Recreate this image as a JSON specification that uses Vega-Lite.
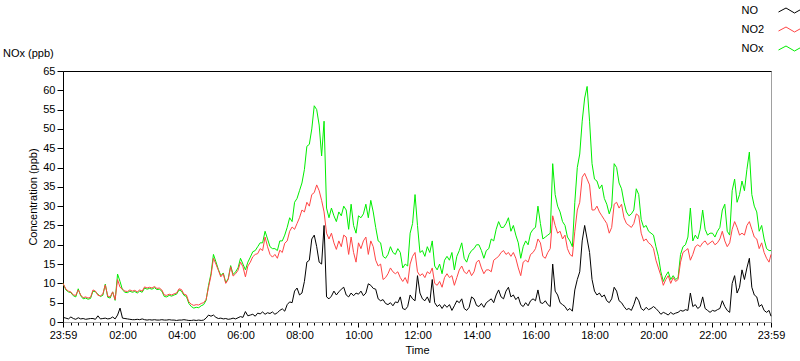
{
"$schema": "https://vega.github.io/schema/vega-lite/v6.json",
"width": 708, "height": 251,
"autosize": "none",
"padding": {"left": 63, "top": 71, "right": 29, "bottom": 39},
"background": "white",
"config": {
  "font": "Liberation Sans",
  "view": {"stroke": "#a0a0a0"},
  "axis": {"labelFont": "Liberation Sans", "titleFont": "Liberation Sans", "labelFontSize": 11, "titleFontSize": 11, "titleFontWeight": "normal", "labelColor": "black", "titleColor": "black", "tickColor": "black", "grid": false}
},
"title": {"text": "NOx (ppb)", "anchor": "start", "frame": "group", "dx": -60, "dy": 63, "offset": 0, "fontSize": 11, "fontWeight": "normal", "font": "Liberation Sans", "color": "black", "baseline": "alphabetic"},
"data": {"values": [
{"t":-1,"a":1.2,"b":10,"c":10},{"t":5,"a":1.0,"b":8.5,"c":8.3},{"t":10,"a":0.8,"b":8,"c":7.8},{"t":15,"a":1.3,"b":7.8,"c":7.6},{"t":20,"a":0.9,"b":7,"c":6.8},{"t":25,"a":0.7,"b":6.9,"c":6.5},{"t":30,"a":1.1,"b":8.3,"c":8.6},{"t":35,"a":0.8,"b":7,"c":6.8},{"t":40,"a":0.9,"b":6.3,"c":6},{"t":45,"a":0.7,"b":6.5,"c":6.2},{"t":50,"a":0.8,"b":6.2,"c":5.9},{"t":55,"a":0.9,"b":6.4,"c":6.1},
{"t":60,"a":0.9,"b":8.3,"c":8},{"t":65,"a":0.7,"b":8,"c":7.8},{"t":70,"a":1.6,"b":6.9,"c":7.2},{"t":75,"a":0.8,"b":6.8,"c":6.6},{"t":80,"a":0.9,"b":7.2,"c":6.9},{"t":85,"a":1,"b":9.6,"c":9.8},{"t":90,"a":0.8,"b":6.7,"c":6.4},{"t":95,"a":0.9,"b":6.5,"c":6.2},{"t":100,"a":1.3,"b":7.8,"c":7.8},{"t":105,"a":0.8,"b":5.8,"c":5.6},{"t":110,"a":1.8,"b":11,"c":12.4},{"t":115,"a":3.6,"b":9,"c":10.5},
{"t":120,"a":1.0,"b":8.5,"c":8.3},{"t":125,"a":0.9,"b":8,"c":7.7},{"t":130,"a":0.8,"b":7.9,"c":7.6},{"t":135,"a":0.7,"b":8.3,"c":8},{"t":140,"a":0.6,"b":8,"c":7.7},{"t":145,"a":0.6,"b":8.2,"c":7.9},{"t":150,"a":0.7,"b":7.8,"c":7.5},{"t":155,"a":0.6,"b":8.3,"c":8},{"t":160,"a":0.8,"b":8,"c":7.7},{"t":165,"a":0.6,"b":9.1,"c":8.8},{"t":170,"a":0.5,"b":8.8,"c":8.5},{"t":175,"a":0.6,"b":9,"c":8.7},
{"t":180,"a":0.5,"b":8.8,"c":8.5},{"t":185,"a":0.6,"b":9.2,"c":8.9},{"t":190,"a":0.5,"b":8.7,"c":8.4},{"t":195,"a":0.5,"b":8.8,"c":8.5},{"t":200,"a":0.6,"b":8.3,"c":8},{"t":205,"a":0.5,"b":7,"c":6.6},{"t":210,"a":0.5,"b":6.9,"c":6.5},{"t":215,"a":0.6,"b":7.2,"c":6.9},{"t":220,"a":0.5,"b":7,"c":6.7},{"t":225,"a":0.5,"b":7.3,"c":7},{"t":230,"a":0.4,"b":7.5,"c":7.2},{"t":235,"a":0.5,"b":8.6,"c":8.3},
{"t":240,"a":0.5,"b":8.4,"c":8},{"t":245,"a":0.6,"b":7.2,"c":6.9},{"t":250,"a":0.5,"b":7,"c":6.6},{"t":255,"a":0.4,"b":5.2,"c":4.8},{"t":260,"a":0.4,"b":4.6,"c":4},{"t":265,"a":0.5,"b":4.3,"c":3.6},{"t":270,"a":0.4,"b":4.5,"c":3.8},{"t":275,"a":0.5,"b":4.4,"c":3.7},{"t":280,"a":0.4,"b":4.8,"c":4.2},{"t":285,"a":0.5,"b":5,"c":4.5},{"t":290,"a":1.0,"b":5.8,"c":5.6},{"t":295,"a":1.8,"b":9,"c":9.5},
{"t":300,"a":1.5,"b":12,"c":12.5},{"t":305,"a":1.8,"b":16.5,"c":17.5},{"t":310,"a":1.2,"b":15,"c":15.6},{"t":315,"a":0.9,"b":13.4,"c":13.6},{"t":320,"a":1.0,"b":11.7,"c":12},{"t":325,"a":0.8,"b":12.5,"c":12.7},{"t":330,"a":0.9,"b":10,"c":10.2},{"t":335,"a":0.7,"b":11,"c":11.2},{"t":340,"a":0.8,"b":14.3,"c":14.6},{"t":345,"a":1.0,"b":11.9,"c":12.3},{"t":350,"a":0.8,"b":12.5,"c":13},{"t":355,"a":1.1,"b":13.4,"c":14},
{"t":360,"a":1.4,"b":15.5,"c":16.5},{"t":365,"a":1.2,"b":14.3,"c":15},{"t":370,"a":2.7,"b":11.7,"c":13.5},{"t":375,"a":1.6,"b":14.5,"c":15.5},{"t":380,"a":1.8,"b":15.5,"c":16.8},{"t":385,"a":2.0,"b":16.9,"c":18.2},{"t":390,"a":1.5,"b":17.5,"c":18.5},{"t":395,"a":2.3,"b":17.7,"c":19.5},{"t":400,"a":2.1,"b":19,"c":20.5},{"t":405,"a":2.6,"b":18.5,"c":20.5},{"t":410,"a":2.0,"b":22,"c":23.5},{"t":415,"a":2.4,"b":19.5,"c":21.5},
{"t":420,"a":2.2,"b":17.5,"c":19.5},{"t":425,"a":2.6,"b":16.8,"c":19},{"t":430,"a":2.0,"b":17.5,"c":19},{"t":435,"a":2.4,"b":16.5,"c":18.5},{"t":440,"a":3.0,"b":18.6,"c":21},{"t":445,"a":3.4,"b":18,"c":21},{"t":450,"a":2.8,"b":20.4,"c":22.5},{"t":455,"a":4.5,"b":21,"c":24.5},{"t":460,"a":5.2,"b":23.5,"c":27},{"t":465,"a":5.0,"b":24.6,"c":26},{"t":470,"a":8.0,"b":24,"c":31},{"t":475,"a":8.8,"b":25.5,"c":32},
{"t":480,"a":7.0,"b":27,"c":34},{"t":485,"a":7.5,"b":29,"c":36},{"t":490,"a":10.5,"b":28.5,"c":39.5},{"t":495,"a":15.5,"b":31,"c":45.5},{"t":500,"a":16.0,"b":30,"c":46},{"t":505,"a":21.5,"b":33,"c":50},{"t":510,"a":22.5,"b":33.5,"c":56},{"t":515,"a":19.5,"b":35.5,"c":55},{"t":520,"a":15.5,"b":34,"c":51},{"t":525,"a":15.0,"b":31.5,"c":43},{"t":530,"a":25.0,"b":28.5,"c":52},{"t":535,"a":6.5,"b":23,"c":29.5},
{"t":540,"a":6.0,"b":21.5,"c":27},{"t":545,"a":6.7,"b":23,"c":29.5},{"t":550,"a":8.0,"b":20.5,"c":27.5},{"t":555,"a":7.0,"b":18.8,"c":26},{"t":560,"a":7.8,"b":21,"c":28.5},{"t":565,"a":8.5,"b":19.5,"c":27.5},{"t":570,"a":9.0,"b":22.5,"c":30},{"t":575,"a":7.0,"b":22,"c":29},{"t":580,"a":6.5,"b":17.5,"c":24},{"t":585,"a":7.5,"b":22,"c":30.5},{"t":590,"a":6.8,"b":18,"c":25},{"t":595,"a":7.5,"b":15.5,"c":23},
{"t":600,"a":7.2,"b":20.5,"c":27.5},{"t":605,"a":8.0,"b":19,"c":27},{"t":610,"a":6.8,"b":21,"c":28},{"t":615,"a":7.5,"b":22,"c":30.5},{"t":620,"a":9.9,"b":17.5,"c":27},{"t":625,"a":9.5,"b":21,"c":31.5},{"t":630,"a":8.7,"b":19.5,"c":28.5},{"t":635,"a":8.5,"b":16,"c":24.5},{"t":640,"a":6.0,"b":14.5,"c":21},{"t":645,"a":5.5,"b":15,"c":20.5},{"t":650,"a":5.8,"b":11,"c":17},{"t":655,"a":4.8,"b":11.5,"c":16.5},
{"t":660,"a":4.5,"b":12.5,"c":17.5},{"t":665,"a":5.0,"b":14,"c":19.5},{"t":670,"a":4.2,"b":13,"c":18},{"t":675,"a":5.2,"b":12.5,"c":17.5},{"t":680,"a":5.0,"b":13,"c":19},{"t":685,"a":6.5,"b":11.5,"c":18},{"t":690,"a":3.5,"b":10.5,"c":14},{"t":695,"a":3.2,"b":11.5,"c":15},{"t":700,"a":4.0,"b":10,"c":14.5},{"t":705,"a":7.0,"b":15,"c":23},{"t":710,"a":6.0,"b":17,"c":25.5},{"t":715,"a":5.5,"b":18,"c":33},
{"t":720,"a":12.0,"b":13,"c":25},{"t":725,"a":7.5,"b":12,"c":18},{"t":730,"a":6.0,"b":12.5,"c":18.5},{"t":735,"a":5.5,"b":11.5,"c":17},{"t":740,"a":6.5,"b":13,"c":19.5},{"t":745,"a":5.0,"b":12.5,"c":18},{"t":750,"a":11.0,"b":14,"c":21},{"t":755,"a":5.0,"b":10,"c":14.5},{"t":760,"a":4.0,"b":9.5,"c":13.5},{"t":765,"a":4.5,"b":10.5,"c":15},{"t":770,"a":3.5,"b":9,"c":12.5},{"t":775,"a":4.5,"b":11.5,"c":16},
{"t":780,"a":3.8,"b":12.5,"c":17},{"t":785,"a":4.5,"b":11.5,"c":16},{"t":790,"a":3.0,"b":12,"c":18},{"t":795,"a":4.2,"b":9.5,"c":13.5},{"t":800,"a":5.5,"b":11.5,"c":17},{"t":805,"a":5.0,"b":13.5,"c":18.5},{"t":810,"a":6.0,"b":14.5,"c":20.5},{"t":815,"a":3.5,"b":13,"c":16.5},{"t":820,"a":3.0,"b":12.5,"c":15.5},{"t":825,"a":3.8,"b":13.5,"c":17.5},{"t":830,"a":6.5,"b":12,"c":18.5},{"t":835,"a":6.0,"b":13,"c":19},
{"t":840,"a":4.3,"b":15.5,"c":20},{"t":845,"a":4.0,"b":16,"c":20},{"t":850,"a":4.8,"b":14,"c":18.5},{"t":855,"a":3.8,"b":12.5,"c":16.5},{"t":860,"a":5.0,"b":13.5,"c":18.5},{"t":865,"a":5.5,"b":13.5,"c":19},{"t":870,"a":6.0,"b":13,"c":21.5},{"t":875,"a":5.0,"b":16,"c":21},{"t":880,"a":7.0,"b":16.5,"c":24},{"t":885,"a":8.3,"b":17,"c":26},{"t":890,"a":6.5,"b":18,"c":24.5},{"t":895,"a":6.0,"b":18.5,"c":24.5},
{"t":900,"a":8.0,"b":17.5,"c":25.5},{"t":905,"a":9.0,"b":18,"c":27},{"t":910,"a":6.5,"b":17,"c":23.5},{"t":915,"a":7.0,"b":18,"c":25},{"t":920,"a":5.8,"b":16.5,"c":22.5},{"t":925,"a":6.5,"b":14,"c":20.5},{"t":930,"a":4.5,"b":12,"c":16.5},{"t":935,"a":4.0,"b":15.5,"c":19.5},{"t":940,"a":5.0,"b":16,"c":21},{"t":945,"a":4.2,"b":15.5,"c":20},{"t":950,"a":5.5,"b":17.5,"c":23},{"t":955,"a":6.0,"b":18,"c":24},
{"t":960,"a":5.5,"b":19,"c":24.5},{"t":965,"a":8.3,"b":21.5,"c":30},{"t":970,"a":5.0,"b":20.5,"c":25.5},{"t":975,"a":4.8,"b":17,"c":21.5},{"t":980,"a":5.5,"b":16.5,"c":22},{"t":985,"a":4.5,"b":18,"c":22.5},{"t":990,"a":4.0,"b":19,"c":23},{"t":995,"a":15.0,"b":27.5,"c":41},{"t":1000,"a":8.0,"b":25,"c":33},{"t":1005,"a":7.0,"b":23,"c":30},{"t":1010,"a":5.0,"b":23.5,"c":28.5},{"t":1015,"a":4.5,"b":21.5,"c":26},
{"t":1020,"a":4.0,"b":22.5,"c":25},{"t":1025,"a":3.0,"b":19,"c":22},{"t":1030,"a":3.5,"b":17.5,"c":21},{"t":1035,"a":2.8,"b":17,"c":19.5},{"t":1040,"a":8.3,"b":23.5,"c":31},{"t":1045,"a":11.0,"b":29,"c":40},{"t":1050,"a":13.0,"b":31,"c":43.5},{"t":1055,"a":21.0,"b":37.5,"c":52},{"t":1060,"a":25.0,"b":38.5,"c":58},{"t":1065,"a":21.5,"b":37,"c":61},{"t":1070,"a":18.0,"b":35.5,"c":52},{"t":1075,"a":11.0,"b":29,"c":41},
{"t":1080,"a":8.0,"b":29,"c":37},{"t":1085,"a":7.0,"b":30,"c":36.5},{"t":1090,"a":7.5,"b":28.5,"c":34.5},{"t":1095,"a":6.5,"b":27.5,"c":35.5},{"t":1100,"a":7.0,"b":26.5,"c":32},{"t":1105,"a":5.5,"b":25.5,"c":30.5},{"t":1110,"a":5.0,"b":23,"c":28},{"t":1115,"a":6.0,"b":24.5,"c":30},{"t":1120,"a":9.0,"b":30.5,"c":41},{"t":1125,"a":8.0,"b":31,"c":40},{"t":1130,"a":5.5,"b":29.5,"c":36},{"t":1135,"a":5.0,"b":30.5,"c":34.5},
{"t":1140,"a":4.0,"b":27,"c":31},{"t":1145,"a":3.2,"b":25.5,"c":28.5},{"t":1150,"a":3.5,"b":25,"c":27.5},{"t":1155,"a":3.0,"b":24.5,"c":28},{"t":1160,"a":4.5,"b":25.5,"c":29},{"t":1165,"a":6.5,"b":28,"c":34.5},{"t":1170,"a":5.5,"b":27.5,"c":33},{"t":1175,"a":3.5,"b":23,"c":26.5},{"t":1180,"a":3.0,"b":21,"c":24.5},{"t":1185,"a":3.8,"b":21.5,"c":25},{"t":1190,"a":3.2,"b":20.5,"c":23.5},{"t":1195,"a":3.5,"b":20,"c":23},
{"t":1200,"a":4.0,"b":19,"c":22.5},{"t":1205,"a":3.5,"b":16,"c":19.5},{"t":1210,"a":2.8,"b":14,"c":17},{"t":1215,"a":2.0,"b":12,"c":13},{"t":1220,"a":2.5,"b":9.5,"c":10.5},{"t":1225,"a":2.2,"b":11,"c":12},{"t":1230,"a":1.8,"b":12,"c":13},{"t":1235,"a":2.5,"b":10,"c":11},{"t":1240,"a":2.0,"b":11.5,"c":12},{"t":1245,"a":2.3,"b":10.5,"c":11},{"t":1250,"a":2.5,"b":11,"c":11.5},{"t":1255,"a":3.0,"b":15.5,"c":17.5},
{"t":1260,"a":2.8,"b":18,"c":19.5},{"t":1265,"a":3.2,"b":18.5,"c":20},{"t":1270,"a":3.0,"b":19,"c":22},{"t":1275,"a":7.5,"b":16,"c":29.5},{"t":1280,"a":4.0,"b":17.5,"c":21},{"t":1285,"a":4.5,"b":19.5,"c":22.5},{"t":1290,"a":3.5,"b":20,"c":21.5},{"t":1295,"a":4.0,"b":19.5,"c":24},{"t":1300,"a":6.5,"b":20.5,"c":29},{"t":1305,"a":3.5,"b":21,"c":24},{"t":1310,"a":3.0,"b":20,"c":22.5},{"t":1315,"a":2.5,"b":20.5,"c":23},
{"t":1320,"a":3.0,"b":21,"c":23},{"t":1325,"a":2.8,"b":20,"c":22},{"t":1330,"a":3.2,"b":20.5,"c":23.5},{"t":1335,"a":3.5,"b":21.5,"c":24.5},{"t":1340,"a":5.5,"b":23.5,"c":29},{"t":1345,"a":4.0,"b":21,"c":30.5},{"t":1350,"a":3.0,"b":19.5,"c":23.5},{"t":1355,"a":2.5,"b":20.5,"c":22.5},{"t":1360,"a":10.0,"b":24,"c":34},{"t":1365,"a":12.0,"b":26,"c":37},{"t":1370,"a":7.5,"b":24.5,"c":31},{"t":1375,"a":9.0,"b":22.5,"c":33},
{"t":1380,"a":13.5,"b":23,"c":36.5},{"t":1385,"a":11.0,"b":22.5,"c":34},{"t":1390,"a":14.0,"b":25,"c":39.5},{"t":1395,"a":16.5,"b":26,"c":44},{"t":1400,"a":9.0,"b":24,"c":33},{"t":1405,"a":7.0,"b":22,"c":30},{"t":1410,"a":6.5,"b":21.5,"c":28.5},{"t":1415,"a":4.0,"b":19,"c":23.5},{"t":1420,"a":4.5,"b":20.5,"c":25},{"t":1425,"a":3.0,"b":18,"c":21.5},{"t":1430,"a":2.5,"b":16.5,"c":19},{"t":1435,"a":3.0,"b":15.5,"c":18.5},{"t":1439,"a":1.5,"b":17.5,"c":18.5}
]},
"resolve": {"axis": {"x": "independent", "y": "independent"}},
"layer": [
  {"mark": {"type": "line", "strokeWidth": 1},
   "encoding": {
     "x": {"field": "t", "type": "quantitative", "scale": {"domain": [-1, 1439], "nice": false, "zero": false},
       "axis": {"title": "Time", "orient": "bottom", "values": [-1,15,30,45,60,75,90,105,120,135,150,165,180,195,210,225,240,255,270,285,300,315,330,345,360,375,390,405,420,435,450,465,480,495,510,525,540,555,570,585,600,615,630,645,660,675,690,705,720,735,750,765,780,795,810,825,840,855,870,885,900,915,930,945,960,975,990,1005,1020,1035,1050,1065,1080,1095,1110,1125,1140,1155,1170,1185,1200,1215,1230,1245,1260,1275,1290,1305,1320,1335,1350,1365,1380,1395,1410,1425,1439],
         "labelExpr": "datum.value == -1 || datum.value == 1439 ? '23:59' : (datum.value % 120 == 0 ? (datum.value < 600 ? '0' : '') + (datum.value / 60) + ':00' : '')",
         "tickSize": {"condition": {"test": "datum.value == -1 || datum.value == 1439 || datum.value % 120 == 0", "value": 5}, "value": 3},
         "domainColor": "#a0a0a0", "labelOverlap": false, "labelFlush": false, "labelPadding": 2, "titlePadding": 4, "titleX": 354, "titleAnchor": "middle"}},
     "y": {"field": "c", "type": "quantitative", "scale": {"domain": [0, 65], "nice": false},
       "axis": {"title": "Concentration (ppb)", "orient": "left", "values": [0,5,10,15,20,25,30,35,40,45,50,55,60,65], "tickSize": 6, "labelPadding": 2, "domainColor": "black", "titlePadding": 4}},
     "color": {"datum": "NOx", "type": "nominal",
       "scale": {"domain": ["NO", "NO2", "NOx"], "range": ["#000000", "#ff4545", "#00ee00"]},
       "legend": {"orient": "none", "legendX": 722.5, "legendY": -66, "title": null, "symbolType": "M-2.5,0.3L-1,-0.5L0.7,0.5L2.5,-0.5", "symbolSize": 100, "symbolStrokeWidth": 1, "symbolFillColor": "transparent", "labelOffset": -55, "labelFontSize": 11, "labelFont": "Liberation Sans", "labelColor": "black", "rowPadding": 7}}
   }},
  {"mark": {"type": "line", "strokeWidth": 1},
   "encoding": {
     "x": {"field": "t", "type": "quantitative", "axis": {"orient": "top", "domain": true, "domainColor": "black", "ticks": false, "labels": false, "title": null, "grid": false}},
     "y": {"field": "b", "type": "quantitative", "axis": null},
     "color": {"datum": "NO2", "type": "nominal"}
   }},
  {"mark": {"type": "line", "strokeWidth": 1},
   "encoding": {
     "x": {"field": "t", "type": "quantitative", "axis": null},
     "y": {"field": "a", "type": "quantitative", "axis": null},
     "color": {"datum": "NO", "type": "nominal"}
   }}
]
}
